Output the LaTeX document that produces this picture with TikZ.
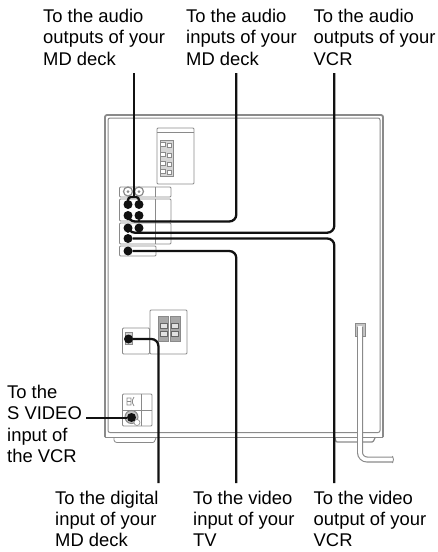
\documentclass[tikz,border=0pt]{standalone}
\usepackage{fontspec}
\setmainfont{Liberation Sans}
\usetikzlibrary{arrows.meta,positioning,calc}
\definecolor{unitgrey}{HTML}{8A8A8A}
\definecolor{wireink}{HTML}{111111}
\tikzset{
  lbl/.style={align=left, inner sep=0pt, font=\fontsize{18.4}{21.4}\selectfont},
  panel/.style={draw=unitgrey, line width=0.8pt, rounded corners=1pt},
  case/.style={draw=unitgrey, line width=1pt, rounded corners=2pt},
  wire/.style={draw=wireink, line width=2.3pt, rounded corners=7pt},
  plug/.style={circle, fill=wireink, inner sep=0pt, minimum size=9pt},
  ring/.style={circle, draw=unitgrey, fill=white, line width=1.2pt, inner sep=0pt, minimum size=9pt},
}

\begin{document}
\begin{tikzpicture}[x=1pt, y=-1pt]
    \useasboundingbox (0,0) rectangle (438,552);
    % cabinet
    \draw[case, line width=1.8pt] (105,437) -- (105,115) -- (383,115) -- (383,437);
    \draw[case] (108,432.5) -- (108,118) -- (380,118) -- (380,432.5) -- cycle;
    \draw[case] (105,437) -- (383,437);
    \draw[panel] (114,438) -- (114,441) -- (116,442.5) -- (154,442.5) -- (156,438);
    \draw[panel, line width=1.3pt] (335,438) -- (336,442) -- (373,442) -- (375,438);
    % top panel
    \draw[panel] (157,128) rectangle (194,184);
    \draw[panel] (157,132) -- (194,132);
    \draw[unitgrey, fill=unitgrey!35, line width=1pt] (160,140) rectangle (173,176);
    \foreach \y in {145,155,164,172}
      { \draw[unitgrey, fill=white, line width=0.6pt] (160,\y-3) rectangle (165,\y+1); \draw[unitgrey, fill=white, line width=0.6pt] (167,\y-2) rectangle (171,\y+2); }
    % jack panels
    \draw[panel] (119.5,187) rectangle (171,197);
    \draw[panel] (119.5,199) rectangle (171,221);
    \draw[panel] (119.5,223) rectangle (171,244);
    \draw[panel] (119.5,246) rectangle (156,256);
    \draw[panel] (155,187) -- (155,197) (155,199) -- (155,244);
    \node[ring] (ringL) at (128,191.5) {};
    \node[ring] (ringR) at (139,191.5) {};
    \fill[unitgrey] (ringL) circle (1.5pt) (ringR) circle (1.5pt);
    % lower panels
    \draw[panel] (122.5,328) rectangle (149.5,354);
    \draw[panel] (150,310) rectangle (187,354);
    \foreach \x in {158.5,170}
      { \draw[unitgrey, fill=unitgrey!75, line width=0.6pt] (\x,316) rectangle (\x+10,341); }
    \foreach \x in {160,171.5}
      \foreach \y in {323,331}
        { \draw[black!60, fill=unitgrey!25, line width=0.4pt] (\x,\y) rectangle (\x+7,\y+5); }
    \draw[unitgrey, fill=unitgrey!40, line width=0.8pt] (125,332) rectangle (132,344);
    \draw[panel] (122.5,394) rectangle (152,426);
    \draw[panel] (141,394) -- (141,426) (122.5,410) -- (152,410);
    \draw[unitgrey, line width=0.7pt] (127,398) rectangle (131,405) (127,401.5) -- (131,401.5) (134,397) -- (132.5,400) -- (132.5,403) -- (134,406);
    \node[circle, draw=unitgrey, fill=unitgrey!50, line width=1pt, inner sep=0pt, minimum size=13pt] (svJack) at (131.5,417) {};
    \node[circle, draw=unitgrey, fill=white, line width=0.6pt, inner sep=0pt, minimum size=6pt] (svPin) at (137,422.5) {};
    % power cord
    \draw[unitgrey, fill=unitgrey!50, line width=1pt] (355,323.5) rectangle (365,336);
    \draw[white, fill=white] (357.5,327) rectangle (362.5,336);
    \draw[unitgrey, line width=6pt, rounded corners=7pt] (360,327) -- (360,459.5) -- (393,459.5);
    \draw[white, line width=3.8pt, rounded corners=7pt] (360,326) -- (360,459.5) -- (393.5,459.5);
    \draw[unitgrey, line width=0.8pt] (392.5,456) -- (393.5,459.5) -- (392.5,463);
    % labels
    \foreach \n/\x/\y/\t in {
      outA/43/8.7/{To the audio\\outputs of your\\MD deck},
      inA/186/8.7/{To the audio\\inputs of your\\MD deck},
      outB/313.5/8.7/{To the audio\\outputs of your\\VCR},
      svideo/7/384.7/{To the\\S VIDEO\\input of\\the VCR},
      digital/55/490.5/{To the digital\\input of your\\MD deck},
      vidIn/193/490.5/{To the video\\input of your\\TV},
      vidOut/313.5/490.5/{To the video\\output of your\\VCR}}
      { \node[lbl, anchor=north west] (\n) at (\x,\y) {\t}; }
    % plugs
    \foreach \n/\x/\y in {pa/128/204.5, pb/139/204.5, pc/128/215.5, pd/139/215.5, pe/128/228, pf/139/228, pg/128/238.5, ph/128/251, pi/128.5/339, pj/131.5/417.5}
      { \node[plug] (\n) at (\x,\y) {}; }
    % free ends
    \coordinate (endA) at (134,73);
    \coordinate (endB) at (236.3,73);
    \coordinate (endC) at (334.3,73);
    \coordinate (endD) at (334.3,483);
    \coordinate (endE) at (236.3,483);
    \coordinate (endF) at (158.4,483);
    \coordinate (endG) at (86,417.5);
    % connectors
    \draw[wire] (endA) -- (134,197);
    \draw[wire, rounded corners=3pt] (pa) -- (128,197) -- (139,197) -- (pb);
    \draw[wire] (endB) -- (236.3,221.5) -- (128,221.5) -- (pc);
    \draw[wire, rounded corners=3pt] (pd) -- (139,221.5);
    \draw[wire] (endC) -- (334.3,232.7) -- (128,232.7) -- (pe);
    \draw[wire, rounded corners=3pt] (pf) -- (139,232.7);
    \draw[wire] (pg) -- (334.3,238.5) -- (endD);
    \draw[wire] (ph) -- (236.3,251) -- (endE);
    \draw[wire] (pi) -- (158.4,339) -- (endF);
    \draw[wire, line width=2pt] (endG) -- (pj);
\end{tikzpicture}
\end{document}
